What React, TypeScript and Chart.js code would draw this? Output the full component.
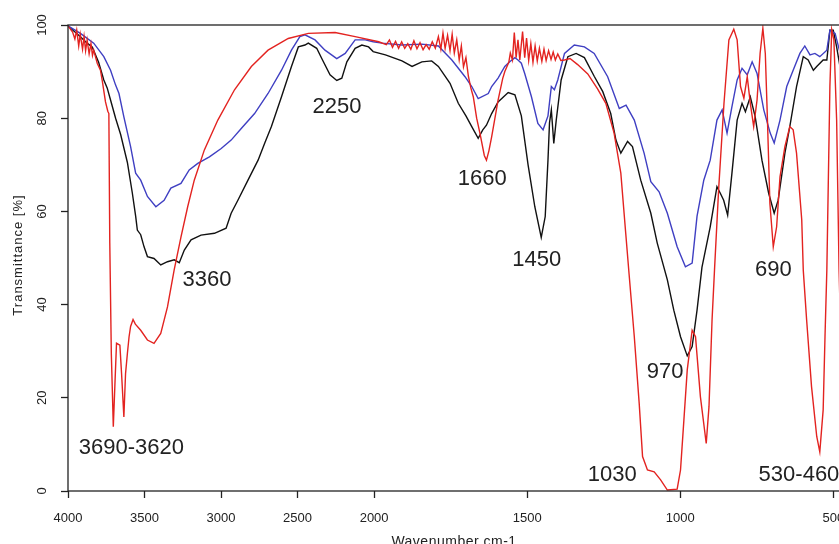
import { useEffect, useRef } from "react"
import { Chart, registerables, type Plugin } from "chart.js"

Chart.register(...registerables)

const FONT = '"Liberation Sans", Arial, sans-serif'

// axis ticks
const xTicks = [4000, 3500, 3000, 2500, 2000, 1500, 1000, 500]
const yTicks = [0, 20, 40, 60, 80, 100]

// black spectrum
const blackWn = [
  4000, 3919, 3875, 3842, 3800, 3766, 3744, 3722, 3689, 3656,
  3612, 3580, 3558, 3547, 3525, 3503, 3481, 3438, 3394, 3350,
  3306, 3273, 3240, 3196, 3131, 3043, 2967, 2934, 2890, 2824,
  2758, 2715, 2671, 2605, 2540, 2495, 2452, 2430, 2375, 2342,
  2288, 2244, 2211, 2178, 2124, 2080, 2036, 2006, 1963, 1909,
  1876, 1844, 1812, 1790, 1752, 1725, 1700, 1681, 1660, 1645,
  1633, 1616, 1595, 1562, 1540, 1519, 1497, 1475, 1454, 1441,
  1432, 1427, 1421, 1413, 1405, 1389, 1367, 1340, 1313, 1281,
  1253, 1227, 1210, 1194, 1172, 1156, 1129, 1096, 1075, 1042,
  1021, 999, 977, 961, 945, 929, 902, 880, 869, 858,
  845, 831, 814, 798, 787, 771, 755, 733, 711, 693,
  680, 658, 642, 620, 598, 582, 565, 554, 533, 521,
  511, 500, 489, 470,
]
const blackT = [
  99.8, 97.5, 96.1, 95.3, 92.0, 88.2, 86.5, 83.9, 80.0, 76.5,
  70.5, 64.0, 59.0, 56.0, 55.0, 52.4, 50.3, 49.9, 48.5, 49.2,
  49.6, 49.0, 51.7, 53.9, 54.9, 55.3, 56.4, 59.6, 62.4, 66.7,
  71.0, 74.6, 78.2, 84.6, 91.1, 95.3, 95.7, 96.1, 95.0, 92.8,
  89.3, 88.1, 88.6, 92.1, 95.0, 95.7, 95.3, 94.3, 93.6, 92.3,
  91.1, 92.1, 92.3, 91.1, 87.5, 83.2, 80.5, 78.2, 75.7, 77.5,
  78.5, 81.0, 83.5, 85.5, 85.0, 80.5, 70.0, 61.0, 54.4, 58.9,
  71.0, 79.0, 81.8, 74.6, 79.6, 88.2, 93.2, 93.9, 93.0, 89.0,
  85.7, 81.0, 75.3, 72.5, 75.0, 73.9, 66.7, 59.6, 53.2, 45.3,
  38.8, 33.1, 29.0, 31.0, 38.8, 48.0, 56.7, 65.3, 63.9, 62.4,
  59.2, 68.2, 79.6, 83.2, 81.4, 84.6, 80.3, 71.0, 63.9, 59.6,
  62.4, 72.5, 78.2, 86.8, 93.2, 92.5, 90.3, 91.1, 92.5, 92.5,
  98.9, 98.9, 95.3, 88.0,
]

// blue spectrum
const blueWn = [
  4000, 3919, 3832, 3766, 3722, 3689, 3667, 3635, 3591, 3558,
  3525, 3481, 3426, 3372, 3328, 3262, 3208, 3152, 3076, 2999,
  2934, 2868, 2781, 2693, 2605, 2540, 2485, 2452, 2386, 2321,
  2244, 2189, 2124, 2058, 2006, 1974, 1909, 1844, 1790, 1746,
  1703, 1681, 1660, 1627, 1616, 1595, 1573, 1557, 1540, 1530,
  1519, 1508, 1486, 1465, 1448, 1432, 1421, 1411, 1400, 1378,
  1346, 1313, 1281, 1237, 1199, 1177, 1150, 1118, 1096, 1069,
  1042, 1010, 983, 961, 945, 923, 902, 880, 863, 847,
  831, 814, 798, 781, 765, 749, 727, 706, 693, 674,
  652, 631, 609, 593, 576, 560, 544, 521, 511, 494,
  470,
]
const blueT = [
  99.8, 98.2, 96.1, 93.2, 90.3, 87.1, 85.3, 80.3, 73.9, 68.2,
  66.7, 63.2, 61.0, 62.4, 65.0, 66.0, 68.9, 70.3, 71.7, 73.5,
  75.3, 77.8, 81.0, 85.3, 90.3, 94.6, 97.5, 97.9, 96.8, 94.6,
  92.8, 93.9, 96.8, 96.8, 96.4, 96.1, 95.7, 95.9, 95.5, 92.5,
  88.9, 86.8, 84.2, 85.3, 86.8, 88.6, 91.1, 92.1, 93.0, 92.5,
  91.8, 89.6, 84.6, 78.9, 77.5, 80.5, 86.8, 86.1, 88.2, 93.9,
  95.7, 95.3, 93.9, 88.9, 82.1, 82.8, 79.6, 72.5, 66.4, 64.2,
  59.6, 52.4, 48.1, 48.9, 59.0, 66.7, 71.0, 79.6, 81.8, 76.8,
  82.5, 88.2, 90.7, 89.3, 92.1, 89.6, 81.8, 76.8, 74.7, 79.6,
  86.8, 90.3, 93.9, 95.5, 93.6, 93.9, 93.2, 94.6, 98.9, 98.2,
  92.0,
]

// red spectrum
const redWn = [
  4000, 3970, 3955, 3943, 3930, 3920, 3905, 3895, 3885, 3875,
  3862, 3850, 3840, 3832, 3809, 3788, 3777, 3755, 3740, 3733,
  3727, 3717, 3711, 3704, 3694, 3683, 3661, 3650, 3635, 3624,
  3612, 3601, 3591, 3575, 3560, 3525, 3481, 3438, 3394, 3350,
  3306, 3262, 3218, 3175, 3109, 3021, 2912, 2802, 2693, 2561,
  2430, 2255, 2124, 1985, 1960, 1950, 1940, 1930, 1920, 1910,
  1900, 1890, 1880, 1870, 1860, 1850, 1840, 1830, 1820, 1810,
  1800, 1790, 1782, 1775, 1768, 1760, 1752, 1745, 1738, 1730,
  1722, 1715, 1708, 1700, 1692, 1684, 1676, 1665, 1654, 1640,
  1633, 1625, 1616, 1595, 1580, 1573, 1560, 1555, 1548, 1542,
  1536, 1530, 1524, 1515, 1508, 1502, 1495, 1488, 1481, 1474,
  1467, 1460, 1452, 1445, 1438, 1430, 1422, 1415, 1408, 1400,
  1390, 1378, 1360, 1335, 1302, 1270, 1243, 1216, 1194, 1178,
  1167, 1150, 1134, 1123, 1107, 1085, 1064, 1042, 1010, 999,
  988, 977, 961, 950, 934, 915, 906, 896, 888, 874,
  857, 841, 825, 814, 803, 792, 781, 771, 760, 749,
  739, 730, 722, 715, 707, 696, 685, 674, 658, 642,
  631, 620, 603, 598, 587, 571, 554, 544, 533, 527,
  521, 511, 505, 498, 489, 481, 470,
]
const redT = [
  99.8, 98.5, 97.0, 98.9, 95.5, 98.0, 94.8, 97.5, 94.5, 96.8,
  93.8, 96.0, 93.5, 94.6, 91.8, 90.3, 88.2, 83.5, 81.5, 81.0,
  53.2, 29.5, 22.4, 13.8, 22.4, 31.7, 31.3, 25.2, 15.9, 25.2,
  29.5, 33.1, 35.3, 36.8, 35.8, 34.5, 32.4, 31.7, 33.8, 39.5,
  47.5, 54.5, 61.0, 66.7, 73.2, 79.6, 86.1, 91.1, 94.6, 97.1,
  98.2, 98.4, 97.5, 96.4, 95.8, 96.8, 95.2, 96.5, 95.0, 96.4,
  95.0, 96.0, 94.8, 96.6, 94.9, 96.2, 94.7, 95.8, 94.8, 96.4,
  95.0, 97.5, 94.8, 98.3, 95.0, 97.8, 94.5, 98.0, 94.0, 96.8,
  92.5, 95.5, 91.0, 93.0, 89.0, 86.5, 84.6, 80.0, 76.7, 72.0,
  71.0, 73.0, 76.0, 83.9, 88.5, 90.0, 92.0, 94.0, 92.5, 98.4,
  93.0, 96.8, 92.5, 98.6, 93.0, 97.2, 92.4, 96.0, 92.0, 95.5,
  92.3, 95.0, 92.2, 94.8, 92.4, 94.5, 92.6, 94.2, 92.5, 93.8,
  92.4, 92.5, 92.8, 91.5, 89.5, 86.3, 83.2, 76.8, 68.2, 55.3,
  46.5, 33.1, 18.8, 7.4, 4.5, 4.1, 2.4, 0.2, 0.4, 4.5,
  15.2, 26.0, 34.5, 33.1, 20.2, 10.2, 18.1, 36.7, 47.4, 65.3,
  83.2, 96.8, 99.1, 96.8, 86.8, 84.3, 88.9, 83.2, 78.2, 83.9,
  93.9, 99.3, 93.9, 79.6, 61.7, 52.4, 56.7, 67.4, 73.9, 78.2,
  77.5, 72.5, 58.2, 47.4, 36.7, 22.4, 11.7, 8.4, 17.4, 33.1,
  47.4, 86.8, 99.0, 96.8, 79.6, 47.4, 20.0,
]

// band labels written on the plot
const peakText = ["3690-3620", "3360", "2250", "1660", "1450", "1030", "970", "690", "530-460"]
const peakWn = [3586, 3092, 2242, 1647, 1469, 1222, 1049, 696, 612]
const peakT = [9.2, 45.3, 82.4, 67.0, 49.6, 3.4, 25.6, 47.4, 3.4]

// the wavenumber axis is compressed 2:1 above 2000 cm-1
const toU = (w: number) => (w >= 2000 ? (4000 - w) / 2 : 1000 + (2000 - w))
const fromU = (u: number) => (u <= 1000 ? 4000 - 2 * u : 2000 - (u - 1000))
const X_MIN_WN = 478

const points = (wn: number[], t: number[]) => wn.map((w, i) => ({ x: toU(w), y: t[i] }))

const decorPlugin: Plugin<"line"> = {
  id: "decor",
  afterDraw(chart) {
    const { ctx, chartArea: a, scales } = chart
    const xs = scales.x
    const ys = scales.y
    ctx.save()
    ctx.strokeStyle = "#222"
    ctx.lineWidth = 1.3
    ctx.strokeRect(a.left, a.top, a.right - a.left, a.bottom - a.top)

    ctx.fillStyle = "#222"
    ctx.textAlign = "center"
    ctx.textBaseline = "middle"
    ctx.font = `13px ${FONT}`
    yTicks.forEach((v) => {
      ctx.save()
      ctx.translate(42, ys.getPixelForValue(v))
      ctx.rotate(-Math.PI / 2)
      ctx.fillText(String(v), 0, 0)
      ctx.restore()
    })

    ctx.save()
    ctx.translate(18, (a.top + a.bottom) / 2 - 3)
    ctx.rotate(-Math.PI / 2)
    ;(ctx as any).letterSpacing = "1px"
    ctx.fillText("Transmittance [%]", 0, 0)
    ctx.restore()

    ctx.font = `14px ${FONT}`
    ctx.textBaseline = "alphabetic"
    ;(ctx as any).letterSpacing = "0.5px"
    ctx.fillText("Wavenumber cm-1", (a.left + a.right) / 2, 546)
    ;(ctx as any).letterSpacing = "0px"

    ctx.font = `22px ${FONT}`
    ctx.textBaseline = "middle"
    peakText.forEach((t, i) => {
      ctx.fillText(t, xs.getPixelForValue(toU(peakWn[i])), ys.getPixelForValue(peakT[i]))
    })
    ctx.restore()
  },
}

export default function App() {
  const canvasRef = useRef<HTMLCanvasElement>(null)

  useEffect(() => {
    if (!canvasRef.current) return
    const line = { pointRadius: 0, borderWidth: 1.4, tension: 0, fill: false }
    const chart = new Chart(canvasRef.current, {
      type: "line",
      data: {
        datasets: [
          { ...line, label: "red", data: points(redWn, redT), borderColor: "#e32320" },
          { ...line, label: "blue", data: points(blueWn, blueT), borderColor: "#3f3fc2" },
          { ...line, label: "black", data: points(blackWn, blackT), borderColor: "#111111" },
        ],
      },
      options: {
        animation: false,
        responsive: true,
        maintainAspectRatio: false,
        layout: { padding: { top: 25, right: 20, left: 0, bottom: 0 } },
        plugins: { legend: { display: false }, tooltip: { enabled: false } },
        scales: {
          x: {
            type: "linear",
            min: 0,
            max: toU(X_MIN_WN),
            afterBuildTicks: (s) => {
              s.ticks = xTicks.map((w) => ({ value: toU(w) }))
            },
            afterFit: (s) => {
              s.height = 53
            },
            grid: { drawOnChartArea: false, drawTicks: true, tickLength: 7, tickColor: "#222", tickWidth: 1.3 },
            border: { display: false },
            ticks: {
              callback: (v) => String(Math.round(fromU(Number(v)))),
              font: { size: 13, family: FONT },
              color: "#222",
              padding: 13,
              maxRotation: 0,
              autoSkip: false,
            },
          },
          y: {
            min: 0,
            max: 100,
            afterBuildTicks: (s) => {
              s.ticks = yTicks.map((v) => ({ value: v }))
            },
            afterFit: (s) => {
              s.width = 68
            },
            grid: { drawOnChartArea: false, drawTicks: true, tickLength: 7, tickColor: "#222", tickWidth: 1.3 },
            border: { display: false },
            ticks: { display: false },
          },
        },
      },
      plugins: [decorPlugin],
    })
    return () => chart.destroy()
  }, [])

  return (
    <div style={{ position: "fixed", left: 0, top: 0, width: "100vw", height: "100vh", overflow: "hidden", background: "#fff" }}>
      <div style={{ position: "relative", width: 860, height: 544 }}>
        <canvas ref={canvasRef} />
      </div>
    </div>
  )
}
